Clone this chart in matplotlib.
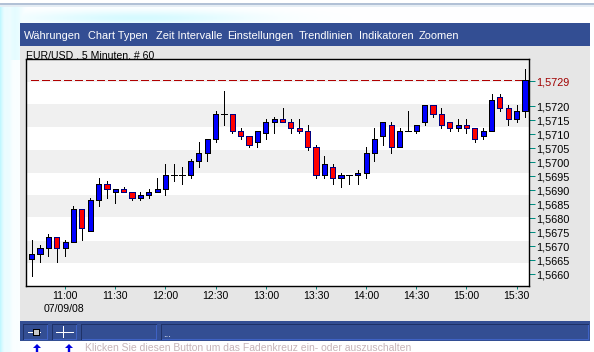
import numpy as np
import matplotlib
matplotlib.use("Agg")
import matplotlib.pyplot as plt
from matplotlib.patches import Rectangle
from matplotlib.transforms import ScaledTranslation

plt.rcParams['font.family'] = ['Liberation Sans', 'DejaVu Sans']

# price data, in units of 0.0001
highs = [5672,5670,5674,5673,5672,5684,5683,5687,5694,5693,5690,5691,5689,5689,5690,5694,5699,5699,5698,5701,
         5707,5708,5718,5725,5717,5712,5709,5711,5715,5716,5719,5715,5715,5713,5706,5702,5699,5696,5695,5697,
         5705,5712,5714,5714,5712,5718,5713,5720,5720,5719,5714,5715,5715,5712,5712,5724,5724,5720,5720,5733]
lows = [5659,5664,5666,5664,5666,5671,5672,5675,5684,5687,5685,5689,5686,5686,5687,5689,5688,5693,5692,5694,
        5698,5700,5707,5713,5710,5708,5705,5705,5708,5710,5714,5710,5710,5704,5694,5694,5692,5691,5692,5692,
        5694,5700,5706,5703,5705,5711,5710,5713,5716,5712,5711,5711,5710,5707,5708,5711,5718,5713,5714,5716]
body_top = [5667,5669,5673,5673,5671,5683,5683,5686,5692,5692,5690,5690,5689,5688,5689,5690,5695,5695,5695,5700,
            5703,5708,5717,5717,5717,5711,5709,5711,5714,5715,5715,5714,5712,5711,5705,5699,5698,5695,5695,5696,
            5703,5708,5714,5713,5711,5711,5713,5720,5720,5717,5714,5713,5713,5712,5711,5722,5723,5719,5718,5729]
body_bottom = [5665,5667,5669,5669,5669,5671,5676,5675,5686,5690,5689,5689,5687,5687,5688,5689,5690,5695,5695,5695,
               5700,5703,5708,5717,5711,5709,5706,5707,5710,5714,5714,5712,5711,5705,5695,5695,5694,5694,5695,5695,
               5696,5703,5709,5705,5705,5711,5711,5714,5717,5713,5712,5712,5712,5708,5709,5711,5719,5715,5715,5718]
is_red = [0,0,0,1,0,0,1,0,0,1,0,1,1,0,0,0,0,0,0,0,
          0,0,0,0,1,1,1,0,0,0,1,1,1,1,1,0,1,0,0,0,
          0,0,0,1,0,0,0,0,1,1,1,0,1,1,0,0,1,1,0,0]

last_price = 5729
y_ticks = [5660,5665,5670,5675,5680,5685,5690,5695,5700,5705,5710,5715,5720,5729]
y_labels = ["1,5660","1,5665","1,5670","1,5675","1,5680","1,5685","1,5690","1,5695","1,5700","1,5705","1,5710","1,5715","1,5720","1,5729"]
x_tick_index = [4,10,16,22,28,34,40,46,52,58]
x_labels = ["11:00","11:30","12:00","12:30","13:00","13:30","14:00","14:30","15:00","15:30"]
band_edges = [(5728.5,5737),(5712.3,5720.5),(5696,5704),(5680,5688),(5663.6,5671.5)]

W, H = 594, 352
PX = 0.72  # one pixel in points at 100 dpi
fig = plt.figure(figsize=(W/100, H/100), dpi=100, facecolor='white')

# page chrome, in pixel coordinates
bg = fig.add_axes([0, 0, 1, 1])
bg.set_xlim(0, W); bg.set_ylim(H, 0); bg.axis('off')
xx, yy = np.meshgrid(np.arange(W)+.5, np.arange(H)+.5)
glow = np.maximum(0.26*np.exp(-xx/7.0)*(0.6+0.4*np.cos(xx/3.0)**2),
                  0.16*np.exp(-((xx-140)/110)**2)*np.exp(-((yy-18)/7)**2))
glow = np.maximum(glow, 0.10*np.exp(-((xx-15)/8)**2)*(yy<60))
img = np.dstack([1-glow*1.0, 1-glow*0.12, 1-glow*0.0])
img[:3] = 1.0
img[3:5] = [0.70, 0.76, 0.84]
img[5:7] = [0.90, 0.93, 0.96]
bg.imshow(img, extent=(0, W, H, 0), aspect='auto', interpolation='nearest', zorder=0)
bg.set_xlim(0, W); bg.set_ylim(H, 0)

def box(x0, y0, x1, y1, fc, ec='none', lw=0, z=1):
    bg.add_patch(Rectangle((x0, y0), x1-x0, y1-y0, fc=fc, ec=ec, lw=lw, zorder=z, antialiased=False))

navy = '#334E93'
box(20, 46, 590, 321, '#E6E6E6')
box(20, 23, 590, 46, navy)
box(20, 321, 590, 341, navy)
for x0, x1 in [(22.5, 46.5), (51.5, 75.5), (80.5, 155.5), (160.5, 587.5)]:
    box(x0, 323.5, x1, 338.5, 'none', ec='#3F62C4', lw=PX, z=2)
    bg.plot([x0, x1], [323.5, 323.5], color='#1F3268', lw=PX, zorder=3, antialiased=False)
    bg.plot([x0, x0], [323.5, 338.5], color='#1F3268', lw=PX, zorder=3, antialiased=False)

# toolbar icons
bg.plot([56, 73], [331.5, 331.5], color='white', lw=PX, zorder=4, antialiased=False)
bg.plot([62.5, 62.5], [326, 337], color='white', lw=PX, zorder=4, antialiased=False)
bg.plot([28, 40], [331.5, 331.5], color='white', lw=PX, zorder=4, antialiased=False)
box(32.5, 328.5, 38.5, 334.5, '#C8C8C8', ec='black', lw=PX, z=5)

for label, x in [("Währungen", 24), ("Chart Typen", 88.5), ("Zeit Intervalle", 156), ("Einstellungen", 227.5),
                 ("Trendlinien", 298.5), ("Indikatoren", 358.5), ("Zoomen", 419)]:
    bg.text(x, 36, label, color='white', fontsize=7.9, va='center', ha='left', zorder=5)
bg.text(26, 55, "EUR/USD , 5 Minuten, # 60", color='black', fontsize=7.6, va='center', ha='left', zorder=2)
bg.text(63.5, 308.5, "07/09/08", color='black', fontsize=7.6, va='center', ha='center', zorder=5)
bg.text(163, 334, "...", color='white', fontsize=7, va='center', ha='left', zorder=5)
bg.text(85, 348.3, "Klicken Sie diesen Button um das Fadenkreuz ein- oder auszuschalten",
        color='#C6B4B8', fontsize=7.5, va='center', ha='left', zorder=5)
for x in [37, 69]:
    bg.add_patch(plt.Polygon([(x, 344), (x+4, 348), (x+1.2, 348), (x+1.2, 352), (x-1.2, 352), (x-1.2, 348), (x-4, 348)],
                             fc='#0000E0', ec='none', zorder=5))

# chart
L, R, T, B = 25.5, 529, 58.5, 286
ax = fig.add_axes([L/W, 1-B/H, (R-L)/W, (B-T)/H], facecolor='white', zorder=3)
ax.set_xlim(-0.74, 59.48)
ax.set_ylim(5655.4, 5736.8)
for lo, hi in band_edges:
    ax.axhspan(lo, hi, color='#F0F0F0', lw=0, zorder=0)

idx = np.arange(len(highs))
top = np.array(body_top); bot = np.array(body_bottom); red = np.array(is_red, dtype=bool)
ax.vlines(idx, lows, highs, color='black', lw=PX, zorder=3, antialiased=False)
doji = top == bot
ax.hlines(top[doji], idx[doji]-0.35, idx[doji]+0.35, color='black', lw=PX, zorder=4, antialiased=False)
ax.bar(idx[~doji & ~red], (top-bot)[~doji & ~red], bottom=bot[~doji & ~red], width=0.62,
       color='#0000FF', edgecolor='black', lw=PX*0.9, zorder=4, antialiased=False)
ax.bar(idx[~doji & red], (top-bot)[~doji & red], bottom=bot[~doji & red], width=0.62,
       color='#FF0000', edgecolor='#000080', lw=PX*0.9, zorder=4, antialiased=False)
ax.plot([-0.1, 59.2], [last_price, last_price], color='#B00000', lw=PX, dashes=(7/0.99, 3/0.99), zorder=2, antialiased=False)

ax.set_xticks(x_tick_index, x_labels)
ax.yaxis.tick_right()
ax.set_yticks(y_ticks, y_labels)
ax.tick_params(axis='x', length=2, width=PX, color='#008C80', pad=1.5, labelsize=7.6, labelcolor='black')
ax.tick_params(axis='y', length=4, width=PX, color='#008C80', pad=1.5, labelsize=7.8, labelcolor='black')
ax.get_yticklabels()[-1].set_color('#A00000')
shift = ScaledTranslation(0, -1/72*0.72, fig.dpi_scale_trans)
for tick in ax.yaxis.get_major_ticks():
    tick.tick2line.set_transform(tick.tick2line.get_transform() + shift)
    tick.label2.set_transform(tick.label2.get_transform() + shift)
for s in ax.spines.values():
    s.set_linewidth(PX*1.4)
    s.set_color('black')

fig.savefig("out.png", dpi=100, facecolor='white')
